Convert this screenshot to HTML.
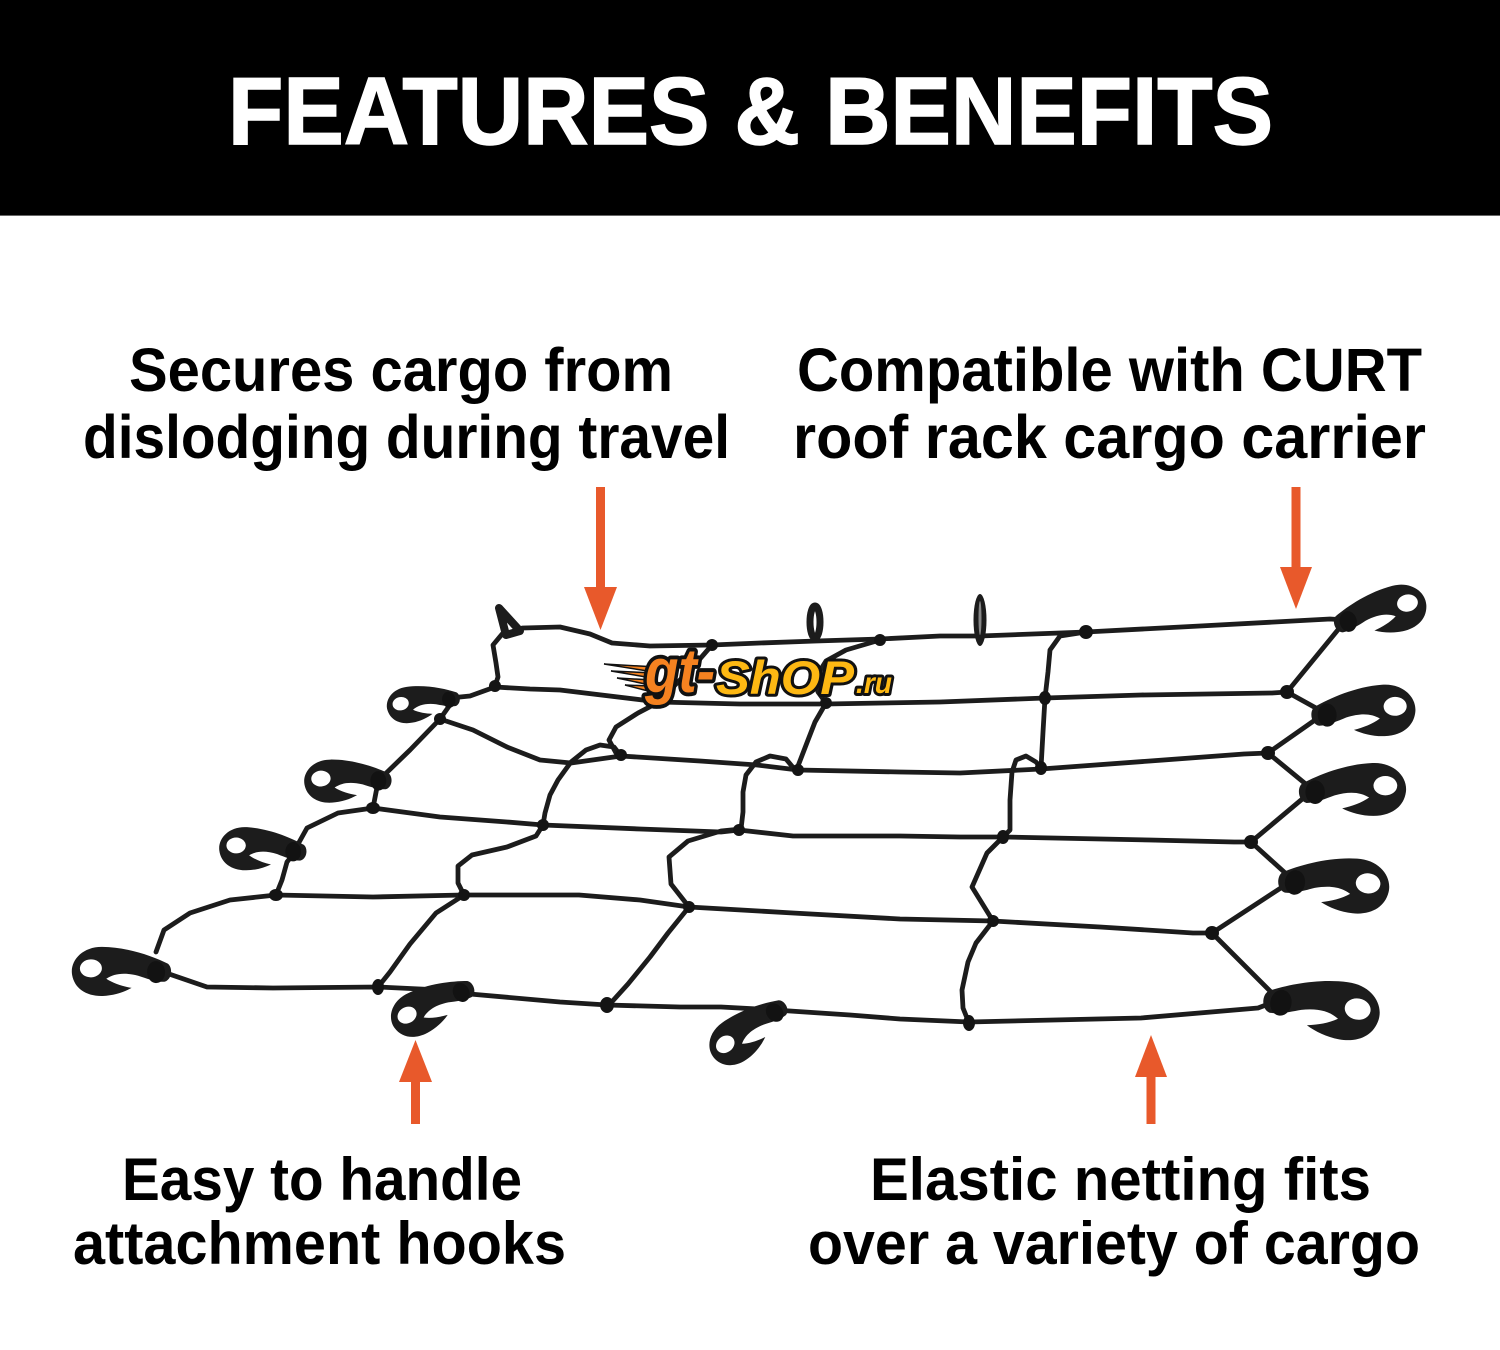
<!DOCTYPE html>
<html>
<head>
<meta charset="utf-8">
<style>
  html,body{margin:0;padding:0;background:#fff;}
  body{width:1500px;height:1350px;overflow:hidden;}
  svg{display:block;}
  .t{font-family:"Liberation Sans",Arial,sans-serif;font-weight:bold;fill:#000;}
</style>
</head>
<body>
<svg width="1500" height="1350" viewBox="0 0 1500 1350" xmlns="http://www.w3.org/2000/svg">
  <defs>
    <g id="hook">
      <path d="M -10,-6 C 5,-14 30,-24 55,-25 C 75,-26 88,-12 86,2 C 84,16 72,24 56,24 C 45,24 35,21 27,17 C 36,15 45,12 52,7 C 44,2 34,1 20,5 C 12,8 2,12 -6,12 C -14,10 -15,-2 -10,-6 Z" fill="#1c1c1c"/>
      <ellipse cx="67" cy="-4" rx="11" ry="9" fill="#fff"/>
      <ellipse cx="2" cy="2" rx="9" ry="11" fill="#121212"/>
    </g>
  </defs>

  <!-- header -->
  <rect x="0" y="0" width="1500" height="215" fill="#000"/>
  <rect x="0" y="215" width="1500" height="1" fill="#666"/>
  <text x="228" y="144" font-size="96" textLength="1045" lengthAdjust="spacingAndGlyphs" font-family="Liberation Sans, Arial, sans-serif" font-weight="bold" fill="#fff" stroke="#fff" stroke-width="1.5">FEATURES &amp; BENEFITS</text>

  <!-- top captions -->
  <text class="t" x="129" y="391" font-size="61" textLength="544" lengthAdjust="spacingAndGlyphs">Secures cargo from</text>
  <text class="t" x="83" y="458" font-size="61" textLength="647" lengthAdjust="spacingAndGlyphs">dislodging during travel</text>
  <text class="t" x="797" y="391" font-size="61" textLength="625" lengthAdjust="spacingAndGlyphs">Compatible with CURT</text>
  <text class="t" x="793" y="458" font-size="61" textLength="633" lengthAdjust="spacingAndGlyphs">roof rack cargo carrier</text>

  <!-- bottom captions -->
  <text class="t" x="122" y="1200" font-size="60" textLength="400" lengthAdjust="spacingAndGlyphs">Easy to handle</text>
  <text class="t" x="73" y="1264" font-size="60" textLength="493" lengthAdjust="spacingAndGlyphs">attachment hooks</text>
  <text class="t" x="870" y="1200" font-size="60" textLength="501" lengthAdjust="spacingAndGlyphs">Elastic netting fits</text>
  <text class="t" x="808" y="1264" font-size="60" textLength="612" lengthAdjust="spacingAndGlyphs">over a variety of cargo</text>

  <!-- arrows -->
  <g fill="#E8592B">
    <rect x="596" y="487" width="9" height="102"/>
    <polygon points="584,587 617,587 600.5,630"/>
    <rect x="1291.5" y="487" width="9" height="83"/>
    <polygon points="1280,567 1312,567 1296,609"/>
    <rect x="411" y="1080" width="9" height="44"/>
    <polygon points="399,1082 432,1082 415.5,1040"/>
    <rect x="1146.5" y="1075" width="9" height="49"/>
    <polygon points="1135,1077 1167,1077 1151,1035"/>
  </g>

  <!-- net strands -->
  <g fill="none" stroke="#1c1c1c" stroke-width="4.8" stroke-linejoin="round" stroke-linecap="round">
    <polyline points="505,632 523,628 560,627 590,634 612,643 650,646 712,645 760,643 816,641 880,639 940,636 980,636 1086,632 1200,626 1330,619 1346,620"/>
    <polyline points="503,633 493,645 496,663 498,677 495,686"/>
    <polyline points="450,698 470,696 495,687 530,689 560,690 659,702 740,704 826,704 940,702 1045,698 1141,695 1272,693 1287,692"/>
    <polyline points="712,645 692,668 659,701"/>
    <polyline points="659,702 638,713 616,727 609,740 616,753 621,756 614,747 600,745 586,750 571,762 558,780 550,795 545,813 543,825 536,836 507,847 472,855 458,866 458,883 464,895 436,913 410,944 390,972 378,987"/>
    <polyline points="880,640 846,650 826,661 816,677 818,692 826,703 815,722 808,740 798,766 796,771 786,759 770,756 756,762 746,775 743,792 743,812 741,829 721,831 688,841 669,857 671,884 689,907 668,933 650,957 628,984 609,1005"/>
    <polyline points="1086,632 1060,636 1050,650 1048,672 1045,698 1043,732 1041,768 1036,762 1026,756 1016,760 1012,772 1010,800 1010,830 1003,837 987,853 972,887 993,921 976,943 968,962 962,990 963,1008 969,1023"/>
    <polyline points="440,719 473,730 507,747 540,760 571,763 621,756 700,761 757,765 798,770 900,772 960,773 1041,769 1150,761 1244,754 1268,753"/>
    <polyline points="297,846 307,828 338,813 373,808 440,817 507,822 543,825 640,829 721,832 739,830 793,836 900,836 960,837 1003,837 1150,840 1234,842 1251,842"/>
    <polyline points="156,952 164,930 190,913 230,900 276,895 373,897 463,895 579,895 640,900 689,907 793,913 900,919 993,921 1100,927 1193,933 1212,933"/>
    <polyline points="158,970 172,975 207,987 273,988 378,987 462,991 470,994 560,1002 607,1005 680,1007 721,1007 775,1010 850,1015 900,1019 969,1022 1141,1018 1258,1008 1279,1000"/>
    <polyline points="452,702 440,719 410,750 380,779"/>
    <polyline points="378,782 373,808"/>
    <polyline points="295,852 287,862 282,880 276,895"/>
    <polyline points="1346,620 1287,692 1325,713 1268,753 1313,790 1251,842 1293,880 1212,933 1279,1000"/>
  </g>

  <!-- knots -->
  <g fill="#141414">
    <ellipse cx="495" cy="686" rx="6" ry="6"/>
    <ellipse cx="659" cy="702" rx="6" ry="6"/>
    <ellipse cx="712" cy="645" rx="6" ry="6"/>
    <ellipse cx="826" cy="703" rx="6" ry="6"/>
    <ellipse cx="880" cy="640" rx="6" ry="6"/>
    <ellipse cx="1086" cy="632" rx="7" ry="7"/>
    <ellipse cx="1045" cy="698" rx="6" ry="7"/>
    <ellipse cx="1287" cy="692" rx="7" ry="7"/>
    <ellipse cx="621" cy="755" rx="6" ry="6"/>
    <ellipse cx="798" cy="770" rx="6" ry="6"/>
    <ellipse cx="1041" cy="768" rx="6" ry="7"/>
    <ellipse cx="1268" cy="753" rx="7" ry="7"/>
    <ellipse cx="543" cy="825" rx="6" ry="6"/>
    <ellipse cx="739" cy="830" rx="6" ry="6"/>
    <ellipse cx="1003" cy="837" rx="6" ry="7"/>
    <ellipse cx="1251" cy="842" rx="7" ry="7"/>
    <ellipse cx="464" cy="895" rx="6" ry="6"/>
    <ellipse cx="689" cy="907" rx="6" ry="6"/>
    <ellipse cx="993" cy="921" rx="6" ry="6"/>
    <ellipse cx="1212" cy="933" rx="7" ry="7"/>
    <ellipse cx="378" cy="987" rx="6" ry="8"/>
    <ellipse cx="607" cy="1005" rx="7" ry="8"/>
    <ellipse cx="969" cy="1023" rx="6" ry="8"/>
    <ellipse cx="440" cy="719" rx="6" ry="6"/>
    <ellipse cx="373" cy="808" rx="7" ry="6"/>
    <ellipse cx="276" cy="895" rx="7" ry="6"/>
  </g>

  <!-- small top hooks -->
  <path d="M 499,608 L 520,631 L 506,635 Z" fill="#fff" stroke="#1c1c1c" stroke-width="8" stroke-linejoin="round"/>
  <ellipse cx="815" cy="622" rx="5" ry="16" fill="#fff" stroke="#1c1c1c" stroke-width="7"/>
  <ellipse cx="980" cy="620" rx="6.5" ry="26" fill="#1c1c1c"/>
  <ellipse cx="980" cy="618" rx="1.5" ry="17" fill="#888"/>

  <!-- right hooks -->
  <use href="#hook" transform="translate(1346,620) rotate(-12) scale(0.95)"/>
  <use href="#hook" transform="translate(1325,713) rotate(-2) scale(1.05)"/>
  <use href="#hook" transform="translate(1313,790) rotate(0) scale(1.08)"/>
  <use href="#hook" transform="translate(1293,880) rotate(6) scale(1.12)"/>
  <use href="#hook" transform="translate(1279,1000) rotate(10) scale(1.18)"/>

  <!-- left hooks -->
  <use href="#hook" transform="translate(450,698) rotate(-10) scale(-0.74,0.74)"/>
  <use href="#hook" transform="translate(380,779) rotate(-3) scale(-0.88,0.88)"/>
  <use href="#hook" transform="translate(295,850) rotate(1) scale(-0.88,0.88)"/>
  <use href="#hook" transform="translate(158,970) rotate(-2) scale(-1,1)"/>

  <!-- bottom hooks -->
  <use href="#hook" transform="translate(462,990) rotate(-28) scale(-0.9,0.9)"/>
  <use href="#hook" transform="translate(775,1010) rotate(-38) scale(-0.9,0.9)"/>

  <!-- watermark logo -->
  <g stroke="#111" stroke-width="1.5" fill="#F58220">
    <polygon points="604,664 656,667 654,672"/>
    <polygon points="611,671 654,673 652,678"/>
    <polygon points="617,678 652,680 650,685"/>
    <polygon points="625,685 650,686 648,691"/>
  </g>
  <g font-family="Liberation Sans, Arial, sans-serif" font-weight="bold" font-style="italic" stroke="#111" stroke-width="6" paint-order="stroke" stroke-linejoin="round">
    <text x="645" y="692" font-size="48" fill="#F58220" textLength="70" lengthAdjust="spacingAndGlyphs" transform="translate(0,692) scale(1,1.3) translate(0,-692)">gt-</text>
    <text x="716" y="694" font-size="47" fill="#FDB813" textLength="138" lengthAdjust="spacingAndGlyphs">ShOP</text>
    <text x="856" y="693" font-size="30" fill="#FDB813" textLength="36" lengthAdjust="spacingAndGlyphs">.ru</text>
  </g>
</svg>
</body>
</html>
